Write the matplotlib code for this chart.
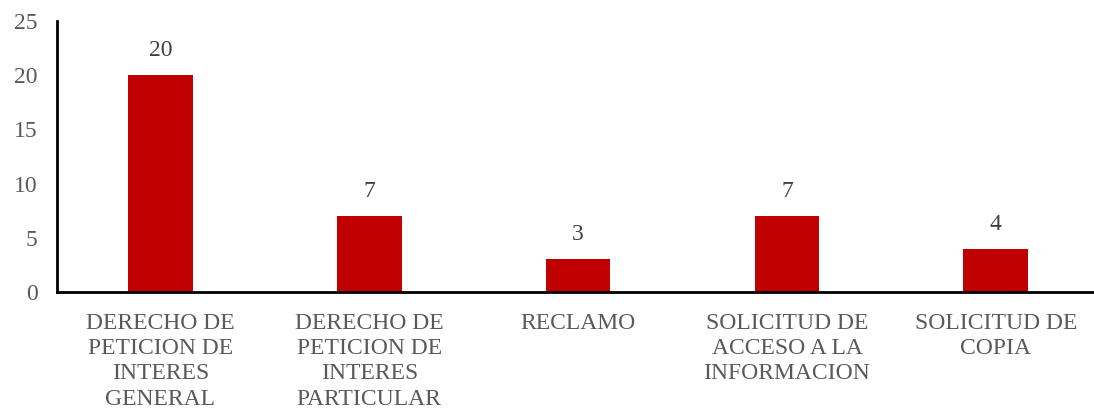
import matplotlib.pyplot as plt

categorias = ['DERECHO DE\nPETICION DE\nINTERES\nGENERAL',
              'DERECHO DE\nPETICION DE\nINTERES\nPARTICULAR',
              'RECLAMO',
              'SOLICITUD DE\nACCESO A LA\nINFORMACION',
              'SOLICITUD DE\nCOPIA']
valores = [20, 7, 3, 7, 4]

plt.rcParams['font.family'] = ['Liberation Serif', 'DejaVu Serif']

fig = plt.figure(figsize=(10.94, 4.11), dpi=100)
ax = fig.add_axes([57 / 1094, 1 - 292 / 411, 1037 / 1094, 271 / 411])

x = range(len(valores))
bars = ax.bar(x, valores, width=0.31, color='#C00000')
for b, v in zip(bars, valores):
    ax.text(b.get_x() + b.get_width() / 2, v + 1.3, str(v), ha='center', va='bottom',
            fontsize=17, color='#404040')

ax.set_xlim(-0.495, 4.47)
ax.set_ylim(0, 25)
ax.set_yticks([0, 5, 10, 15, 20, 25])
ax.set_xticks(list(x))
ax.set_xticklabels(categorias, fontsize=17, color='#595959', linespacing=1.27)
ax.tick_params(axis='y', labelsize=17, labelcolor='#595959', length=0, pad=14)
ax.tick_params(axis='x', length=0, pad=15)
ax.spines['top'].set_visible(False)
ax.spines['right'].set_visible(False)
ax.spines['left'].set_linewidth(2)
ax.spines['bottom'].set_linewidth(2)

fig.savefig('out.png', dpi=100)
